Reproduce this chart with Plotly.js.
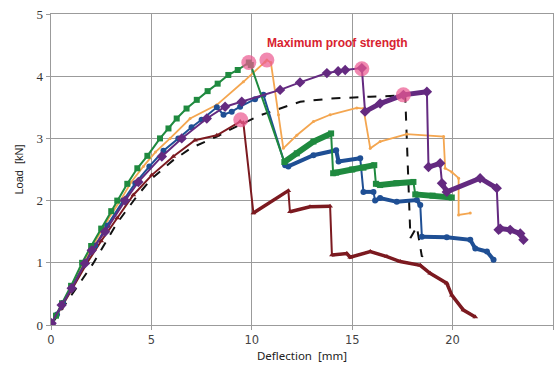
<!DOCTYPE html>
<html>
<head>
<meta charset="utf-8">
<script src="https://cdn.plot.ly/plotly-3.0.1.min.js"></script>
<style>html,body{margin:0;padding:0;background:#fff;}#chart{width:559px;height:366px;}</style>
</head>
<body>
<div id="chart"></div>
<script>
// Data (Deflection [mm], Load [kN])
var greenX = [0, 0.25, 0.55, 1.0, 1.55, 2.0, 2.5, 3.0, 3.3, 3.8, 4.3, 4.8, 5.43, 5.85, 6.26, 6.75, 7.26, 7.8, 8.3, 8.83, 9.3, 9.85, 9.95, 11.62, 12.24, 13.07, 13.95, 14.05, 14.2, 15.0, 15.56, 16.1, 16.18, 16.39, 17.2, 18.05, 18.14, 19.0, 19.96];
var greenY = [0, 0.15, 0.35, 0.63, 1.0, 1.27, 1.55, 1.83, 2.0, 2.27, 2.52, 2.72, 3.0, 3.16, 3.32, 3.48, 3.62, 3.76, 3.88, 4.02, 4.1, 4.22, 4.18, 2.62, 2.76, 2.95, 3.08, 2.44, 2.45, 2.5, 2.53, 2.57, 2.27, 2.25, 2.28, 2.3, 2.1, 2.08, 2.05];

var orangeX = [0, 0.5, 1.0, 1.6, 2.2, 2.8, 3.45, 4.0, 4.6, 5.2, 5.93, 6.93, 8.26, 9.58, 10.66, 10.75, 10.95, 11.33, 11.57, 12.24, 13.07, 13.9, 15.23, 15.56, 15.9, 16.39, 17.72, 19.55, 19.63, 19.96, 20.3, 20.3, 20.88];
var orangeY = [0, 0.3, 0.6, 1.0, 1.35, 1.68, 2.0, 2.3, 2.55, 2.78, 3.0, 3.32, 3.54, 3.91, 4.23, 4.26, 4.22, 3.38, 2.84, 3.05, 3.27, 3.38, 3.49, 3.48, 2.84, 2.95, 3.07, 3.03, 2.52, 2.46, 2.36, 1.77, 1.8];

var blueX = [0, 0.3, 0.6, 1.0, 1.7, 2.2, 2.8, 3.6, 4.2, 4.9, 5.6, 6.34, 7.0, 7.5, 8.26, 8.59, 9.0, 9.42, 10.16, 10.58, 11.66, 11.82, 13.07, 14.2, 14.32, 15.4, 15.56, 16.06, 16.14, 16.39, 17.22, 18.22, 18.39, 18.47, 19.71, 20.88, 21.13, 21.71, 22.04];
var blueY = [0, 0.17, 0.35, 0.58, 1.0, 1.28, 1.6, 2.0, 2.28, 2.55, 2.8, 3.0, 3.18, 3.3, 3.5, 3.38, 3.43, 3.51, 3.63, 3.7, 2.57, 2.55, 2.73, 2.81, 2.63, 2.68, 2.14, 2.14, 2.0, 2.04, 1.98, 2.01, 1.93, 1.42, 1.41, 1.37, 1.23, 1.18, 1.05];

var purpleX = [0, 0.03, 0.53, 1.03, 1.69, 2.03, 2.69, 3.69, 4.35, 5.52, 6.51, 7.76, 8.67, 9.5, 11.41, 12.4, 13.74, 14.3, 14.65, 15.48, 15.64, 16.39, 17.55, 18.72, 18.8, 19.38, 19.47, 19.71, 21.37, 22.2, 22.29, 22.37, 22.87, 23.37, 23.53];
var purpleY = [0, 0.03, 0.32, 0.59, 0.99, 1.2, 1.5, 2.0, 2.3, 2.71, 3.0, 3.32, 3.51, 3.59, 3.78, 3.9, 4.05, 4.08, 4.1, 4.13, 3.43, 3.56, 3.7, 3.75, 2.54, 2.6, 2.28, 2.14, 2.36, 2.2, 1.53, 1.55, 1.53, 1.47, 1.37];

var redX = [0, 0.5, 1.0, 1.8, 2.5, 3.3, 4.1, 5.02, 6.09, 7.17, 8.26, 9.42, 9.58, 10.08, 11.82, 11.9, 12.9, 13.9, 13.99, 14.73, 14.9, 15.9, 16.73, 17.39, 18.39, 18.88, 19.71, 19.96, 20.54, 21.13];
var redY = [0, 0.27, 0.55, 1.0, 1.35, 1.72, 2.09, 2.41, 2.71, 2.97, 3.05, 3.27, 3.25, 1.8, 2.16, 1.82, 1.9, 1.91, 1.125, 1.15, 1.09, 1.18, 1.1, 1.02, 0.96, 0.83, 0.67, 0.48, 0.24, 0.13];

var dashX = [0, 1.0, 2.1, 3.27, 4.3, 5.0, 6.09, 7.0, 8.26, 8.92, 10.4, 12.41, 13.9, 15.9, 17.39, 17.64, 17.9, 18.22, 18.47, 18.8];
var dashY = [0, 0.48, 0.99, 1.63, 2.08, 2.35, 2.65, 2.85, 3.03, 3.14, 3.37, 3.59, 3.64, 3.67, 3.69, 3.69, 1.4, 1.58, 1.1, 1.2];

var maxX = [9.85, 10.75, 15.48, 17.55, 9.45];
var maxY = [4.22, 4.26, 4.12, 3.7, 3.3];

var annotationText = "Maximum proof strength";
var xTicks = [0, 5, 10, 15, 20, 25];
var yTicks = [0, 1, 2, 3, 4, 5];

// Build the thick noisy post-peak band from the series (break at near-vertical drops)
function band(xs, ys, startAfter) {
  var bx = [], by = [];
  for (var i = 0; i < xs.length; i++) {
    if (xs[i] < startAfter) continue;
    if (bx.length) {
      var dx = xs[i] - xs[i - 1], dy = ys[i] - ys[i - 1];
      if (Math.abs(dy) > 0.12 && Math.abs(dy) > 1.5 * Math.abs(dx)) { bx.push(null); by.push(null); }
    }
    bx.push(xs[i]); by.push(ys[i]);
  }
  return {x: bx, y: by};
}

var C = {green: '#1f8a3f', orange: '#f4a650', blue: '#1f4f94', purple: '#642a80', red: '#7c1a20'};

var traces = [];
function addSeries(xs, ys, color, sym, msize, lw, bandStart, bandW) {
  if (bandStart !== null) {
    var b = band(xs, ys, bandStart);
    traces.push({x: b.x, y: b.y, mode: 'lines', line: {color: color, width: bandW}, connectgaps: false, hoverinfo: 'skip', showlegend: false});
  }
  traces.push({x: xs, y: ys, mode: sym ? 'lines+markers' : 'lines', line: {color: color, width: lw},
    marker: {symbol: sym || 'circle', size: msize, color: color}, showlegend: false});
}

traces.push({x: dashX, y: dashY, mode: 'lines', line: {color: '#111', width: 2, dash: 'dash'}, showlegend: false});
addSeries(redX, redY, C.red, 'triangle-up', 5, 2, 10.0, 3.5);
addSeries(orangeX, orangeY, C.orange, 'circle', 3, 1.8, null, 0);
addSeries(blueX, blueY, C.blue, 'circle', 6, 2, 11.6, 4);
addSeries(greenX, greenY, C.green, 'square', 6, 2, 11.6, 6);
addSeries(purpleX, purpleY, C.purple, 'diamond', 8, 2, 15.6, 5);
traces.push({x: maxX, y: maxY, mode: 'markers', marker: {size: 15, color: 'rgba(236,92,145,0.72)'}, showlegend: false});

var grid = '#9b9b9b';
var layout = {
  width: 559, height: 366,
  margin: {l: 51, r: 6, t: 14, b: 41},
  paper_bgcolor: '#fff', plot_bgcolor: '#fff',
  showlegend: false,
  xaxis: {
    range: [0, 25], tickvals: xTicks, ticktext: xTicks.map(String),
    showgrid: true, gridcolor: grid, gridwidth: 1.3, zeroline: false,
    showline: true, linecolor: grid, linewidth: 1.3, mirror: true,
    ticks: 'outside', ticklen: 4, tickcolor: grid,
    tickfont: {family: 'DejaVu Sans, Arial', size: 11.5, color: '#444'},
    title: {text: 'Deflection  [mm]', font: {family: 'Noto Sans, Arial', size: 11.5, color: '#222'}, standoff: 6}
  },
  yaxis: {
    range: [0, 5], tickvals: yTicks, ticktext: yTicks.map(String),
    showgrid: true, gridcolor: grid, gridwidth: 1.3, zeroline: false,
    showline: true, linecolor: grid, linewidth: 1.3, mirror: true,
    ticks: 'outside', ticklen: 4, tickcolor: grid,
    tickfont: {family: 'Liberation Serif, DejaVu Serif, serif', size: 13, color: '#333'},
    title: {text: 'Load  [kN]', font: {family: 'Liberation Sans, Arial', size: 11, color: '#222'}, standoff: 10}
  },
  annotations: [{
    x: 14.27, y: 4.53, xref: 'x', yref: 'y', text: '<b>' + annotationText + '</b>', showarrow: false,
    font: {family: 'Liberation Sans, Arial', size: 12, color: '#d8222f'}
  }]
};

Plotly.newPlot('chart', traces, layout, {displayModeBar: false, staticPlot: true});
</script>
</body>
</html>
